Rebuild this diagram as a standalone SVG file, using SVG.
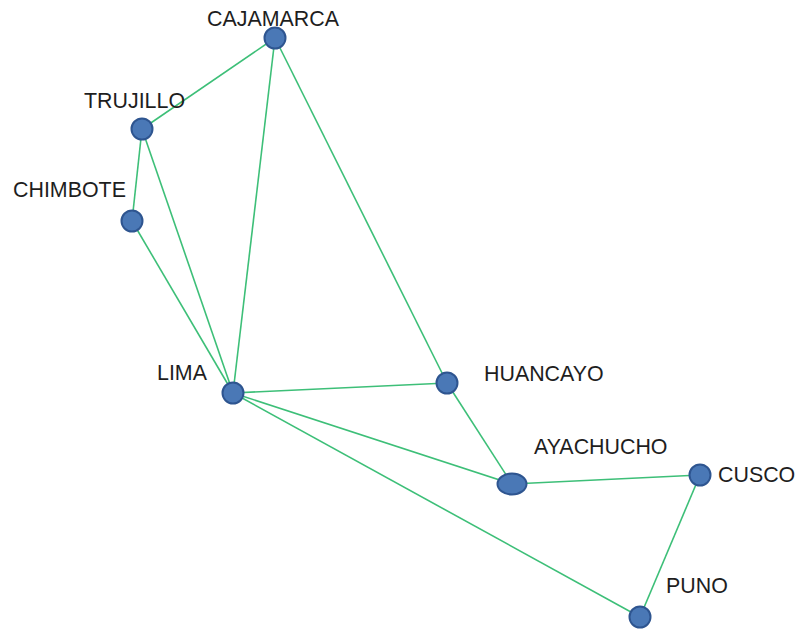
<svg xmlns="http://www.w3.org/2000/svg" width="802" height="630" viewBox="0 0 802 630">
<style>
.e{stroke:#3dbf78;stroke-width:1.6;fill:none}
.n{fill:#4a78b6;stroke:#2e5590;stroke-width:2}
.t{font-family:"Liberation Sans",Arial,sans-serif;font-size:21.4px;fill:#1e1e1e}
</style>
<rect width="802" height="630" fill="#fff"/>
<g id="connectors">
<line class="e" x1="275" y1="38" x2="142" y2="129"/>
<line class="e" x1="275" y1="38" x2="233" y2="393"/>
<line class="e" x1="275" y1="38" x2="447" y2="383"/>
<line class="e" x1="142" y1="129" x2="132" y2="221"/>
<line class="e" x1="142" y1="129" x2="233" y2="393"/>
<line class="e" x1="132" y1="221" x2="233" y2="393"/>
<line class="e" x1="233" y1="393" x2="447" y2="383"/>
<line class="e" x1="233" y1="393" x2="512" y2="484"/>
<line class="e" x1="233" y1="393" x2="640" y2="617"/>
<line class="e" x1="447" y1="383" x2="512" y2="484"/>
<line class="e" x1="512" y1="484" x2="700" y2="475"/>
<line class="e" x1="700" y1="475" x2="640" y2="617"/>
</g>
<g id="cajamarca"><circle class="n" cx="275" cy="38" r="10.5"/><text class="t" x="207" y="26">CAJAMARCA</text></g>
<g id="trujillo"><circle class="n" cx="142" cy="129" r="10.5"/><text class="t" x="84" y="108">TRUJILLO</text></g>
<g id="chimbote"><circle class="n" cx="132" cy="221" r="10.5"/><text class="t" x="13" y="197">CHIMBOTE</text></g>
<g id="lima"><circle class="n" cx="233" cy="393" r="10.5"/><text class="t" x="157" y="380">LIMA</text></g>
<g id="huancayo"><circle class="n" cx="447" cy="383" r="10.5"/><text class="t" x="484" y="381">HUANCAYO</text></g>
<g id="ayachucho"><ellipse class="n" cx="512" cy="484" rx="14.5" ry="10.5"/><text class="t" x="534" y="454">AYACHUCHO</text></g>
<g id="cusco"><circle class="n" cx="700" cy="475" r="10.5"/><text class="t" x="718" y="482">CUSCO</text></g>
<g id="puno"><circle class="n" cx="640" cy="617" r="10.5"/><text class="t" x="666" y="593">PUNO</text></g>
</svg>
